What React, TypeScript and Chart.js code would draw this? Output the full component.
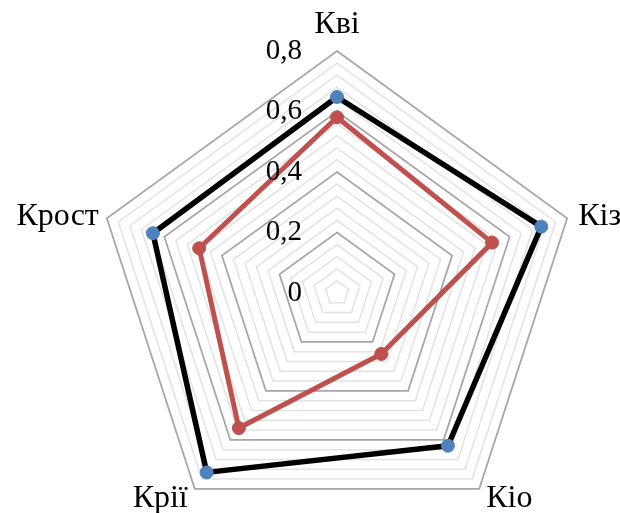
import React, { useEffect, useRef } from 'react';
import { Chart, registerables } from 'chart.js';

Chart.register(...registerables);

// Axis categories, clockwise from the top
const categories = ['Кві', 'Кіз', 'Кіо', 'Крії', 'Крост'];

// Series values
const seriesBlack = [0.648, 0.71, 0.624, 0.733, 0.64];
const seriesRed = [0.581, 0.539, 0.249, 0.552, 0.479];

// Labelled radial ticks
const tickValues = [0, 0.2, 0.4, 0.6, 0.8];
const tickLabels = ['0', '0,2', '0,4', '0,6', '0,8'];

const FONT = '"Liberation Serif", "Times New Roman", serif';

// Draws the radial tick labels beside the vertical axis and the category names
const radarTextPlugin = {
  id: 'radarText',
  afterDraw(chart: any) {
    const scale = chart.scales.r;
    const ctx = chart.ctx as CanvasRenderingContext2D;
    ctx.save();
    ctx.fillStyle = '#000';

    ctx.font = `29px ${FONT}`;
    ctx.textAlign = 'right';
    ctx.textBaseline = 'middle';
    tickValues.forEach((v, i) => {
      const d = scale.getDistanceFromCenterForValue(v);
      ctx.fillText(tickLabels[i], scale.xCenter - 35, scale.yCenter - d);
    });

    ctx.font = `32px ${FONT}`;
    ctx.textBaseline = 'alphabetic';
    categories.forEach((name, i) => {
      const p = scale.getPointPosition(i, scale.drawingArea);
      const dx = p.x - scale.xCenter;
      const dy = p.y - scale.yCenter;
      if (Math.abs(dx) < 1) {
        ctx.textAlign = 'center';
        ctx.fillText(name, p.x, p.y - 18);
      } else if (dy < 0) {
        ctx.textAlign = dx > 0 ? 'left' : 'right';
        ctx.fillText(name, p.x + (dx > 0 ? 11 : -8), p.y + 7);
      } else {
        ctx.textAlign = dx > 0 ? 'left' : 'right';
        ctx.fillText(name, p.x + (dx > 0 ? 7 : -7), p.y + 18);
      }
    });
    ctx.restore();
  },
};

const isMajor = (v: number) => Math.round(v * 100) % 20 === 0;

export default function App() {
  const canvasRef = useRef<HTMLCanvasElement>(null);

  useEffect(() => {
    let chart: Chart | null = null;
    let cancelled = false;

    const build = () => {
      if (cancelled || !canvasRef.current) return;
      chart = new Chart(canvasRef.current, {
        type: 'radar',
        data: {
          labels: categories,
          datasets: [
            {
              data: seriesBlack,
              borderColor: '#000000',
              borderWidth: 5.5,
              borderJoinStyle: 'round',
              pointBackgroundColor: '#4f81bd',
              pointBorderColor: '#4f81bd',
              pointBorderWidth: 1,
              pointRadius: 6.5,
              fill: false,
            },
            {
              data: seriesRed,
              borderColor: '#c0504d',
              borderWidth: 5,
              borderJoinStyle: 'round',
              pointBackgroundColor: '#c0504d',
              pointBorderColor: '#c0504d',
              pointBorderWidth: 1,
              pointRadius: 6.5,
              fill: false,
            },
          ],
        },
        options: {
          responsive: false,
          animation: false,
          layout: { padding: 0 },
          plugins: {
            legend: { display: false },
            tooltip: { enabled: false },
          },
          elements: { line: { tension: 0 } },
          scales: {
            r: {
              min: 0,
              max: 0.8,
              ticks: { display: false, stepSize: 0.04 },
              angleLines: { display: false },
              pointLabels: { display: false },
              grid: {
                color: (ctx: any) => (isMajor(ctx.tick.value) ? '#a6a6a6' : '#e2e2e2'),
                lineWidth: (ctx: any) => (isMajor(ctx.tick.value) ? 1.75 : 1.5),
              },
              afterFit: (scale: any) => {
                scale.xCenter = 337;
                scale.yCenter = 293;
                scale.drawingArea = 242;
              },
            },
          },
        },
        plugins: [radarTextPlugin],
      } as any);
    };

    const fonts = (document as any).fonts;
    if (fonts && fonts.load) {
      fonts
        .load(`32px "Liberation Serif"`, 'Кві0,8')
        .catch(() => null)
        .then(build);
    } else {
      build();
    }

    return () => {
      cancelled = true;
      if (chart) chart.destroy();
    };
  }, []);

  return (
    <div style={{ position: 'fixed', left: 0, top: 0, width: 620, height: 513, background: '#ffffff' }}>
      <canvas ref={canvasRef} width={620} height={513} style={{ display: 'block', width: 620, height: 513 }} />
    </div>
  );
}
